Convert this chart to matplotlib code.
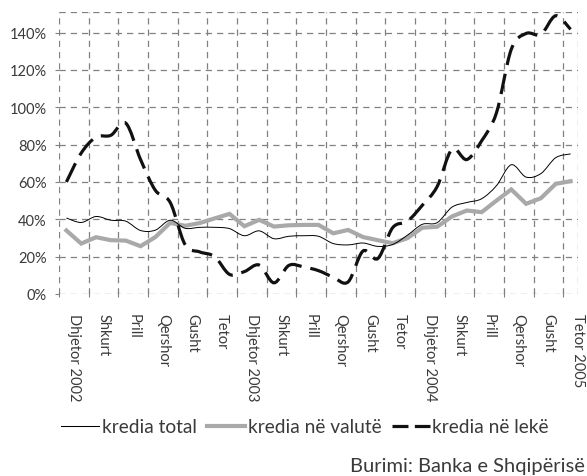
import numpy as np
import matplotlib
matplotlib.use("Agg")
import matplotlib.pyplot as plt
from matplotlib.path import Path
from matplotlib.patches import PathPatch
from matplotlib.lines import Line2D

plt.rcParams['font.family'] = ['Lato', 'DejaVu Sans']

tick_labels = ["Dhjetor 2002", "Shkurt", "Prill", "Qershor", "Gusht", "Tetor",
               "Dhjetor 2003", "Shkurt", "Prill", "Qershor", "Gusht", "Tetor",
               "Dhjetor 2004", "Shkurt", "Prill", "Qershor", "Gusht", "Tetor 2005"]

total = [40.7, 38.3, 41.5, 39.5, 39.0, 34.0, 34.2, 39.5, 35.2, 35.7,
         35.7, 35.0, 31.2, 33.8, 29.6, 30.9, 31.2, 30.9, 27.0, 26.3,
         27.3, 25.5, 26.5, 31.5, 37.3, 38.2, 46.5, 49.0, 51.0, 58.0,
         69.2, 62.6, 64.5, 73.0, 75.0]

valute = [34.0, 27.0, 30.4, 28.8, 28.6, 25.6, 30.5, 38.1, 36.5, 38.0,
          40.5, 42.9, 36.3, 39.7, 36.1, 36.8, 37.0, 37.0, 32.5, 34.3,
          30.5, 28.8, 27.2, 29.9, 35.5, 36.0, 41.5, 44.7, 43.8, 50.0,
          56.0, 48.3, 51.3, 59.0, 60.4]

leke = [60.0, 75.5, 84.0, 85.0, 91.5, 72.0, 55.5, 49.0, 26.5, 22.5,
        20.0, 10.5, 12.0, 15.5, 6.0, 15.3, 14.5, 12.5, 9.0, 6.5,
        23.0, 19.0, 35.5, 39.0, 47.5, 57.5, 77.5, 72.0, 82.0, 97.0,
        131.0, 139.5, 139.0, 149.0, 141.7]

n = len(total)
x = np.arange(n) + 0.5
label_pos = np.arange(1, 2 * len(tick_labels), 2)

TXT = '#3a3a3a'
GRID = '#808080'

fig = plt.figure(figsize=(5.87, 4.77), dpi=100)
ax = fig.add_axes([59 / 587, (477 - 295) / 477, 519 / 587, 282 / 477])
ax.set_xlim(0, 35)
ax.set_ylim(0, 151)


def smooth_path(xs, ys):
    pts = np.column_stack([xs, ys])
    verts = [pts[0]]
    codes = [Path.MOVETO]
    m = len(pts)
    for i in range(m - 1):
        p0 = pts[i - 1] if i > 0 else pts[i]
        p1 = pts[i]
        p2 = pts[i + 1]
        p3 = pts[i + 2] if i + 2 < m else pts[i + 1]
        c1 = p1 + (p2 - p0) / 6.0
        c2 = p2 - (p3 - p1) / 6.0
        verts += [c1, c2, p2]
        codes += [Path.CURVE4] * 3
    return Path(verts, codes)


# grid
gls = (0, (5, 4))
for gy in range(0, 141, 20):
    ax.axhline(gy, color=GRID, lw=0.9, ls=gls, zorder=1)
ax.axhline(151, color=GRID, lw=0.9, ls=gls, zorder=1)
for gx in range(0, 35, 2):
    ax.axvline(gx, color=GRID, lw=0.9, ls=gls, zorder=1)
ax.axvline(35, color=GRID, lw=0.9, ls=gls, zorder=1)
for s in ax.spines.values():
    s.set_visible(False)

# series
ax.plot(x, valute, color='#a9a9a9', lw=3.0, solid_joinstyle='miter', zorder=3)
ax.add_patch(PathPatch(smooth_path(x, total), fill=False, edgecolor='black',
                       lw=0.7, zorder=4))
ax.add_patch(PathPatch(smooth_path(x, leke), fill=False, edgecolor='#111111',
                       lw=2.3, ls=(0, (6.5, 2.8)), capstyle='butt', zorder=5))

# ticks
ax.set_yticks(range(0, 141, 20))
ax.set_yticklabels([f"{v}%" for v in range(0, 141, 20)], fontsize=10.5, color=TXT)
ax.tick_params(axis='y', length=3, width=0.8, color=GRID, pad=6)
ax.set_xticks(range(0, 35, 2))
ax.set_xticklabels([])
ax.tick_params(axis='x', which='major', direction='inout', length=5, width=0.8, color=GRID)
ax.set_xticks(label_pos, minor=True)
ax.set_xticklabels(tick_labels, minor=True, rotation=270, fontsize=10.5,
                   color=TXT, ha='center', va='top')
ax.tick_params(axis='x', which='minor', length=0, pad=14)

# legend
handles = [Line2D([], [], color='black', lw=0.75),
           Line2D([], [], color='#a9a9a9', lw=3.0),
           Line2D([], [], color='#111111', lw=2.3, ls=(0, (5.0, 2.0)))]
labels = ["kredia total", "kredia në valutë", "kredia në lekë"]
leg = fig.legend(handles, labels, loc='center', bbox_to_anchor=(305 / 587, 1 - 428 / 477),
                 ncol=3, frameon=False, fontsize=13.8, handlelength=2.0,
                 handletextpad=0.12, columnspacing=0.55)
for t in leg.get_texts():
    t.set_color(TXT)

fig.text(585 / 587, 1 - 467 / 477, "Burimi: Banka e Shqipërisë", ha='right',
         va='center', fontsize=14.5, color=TXT)

fig.savefig("out.png", dpi=100)
